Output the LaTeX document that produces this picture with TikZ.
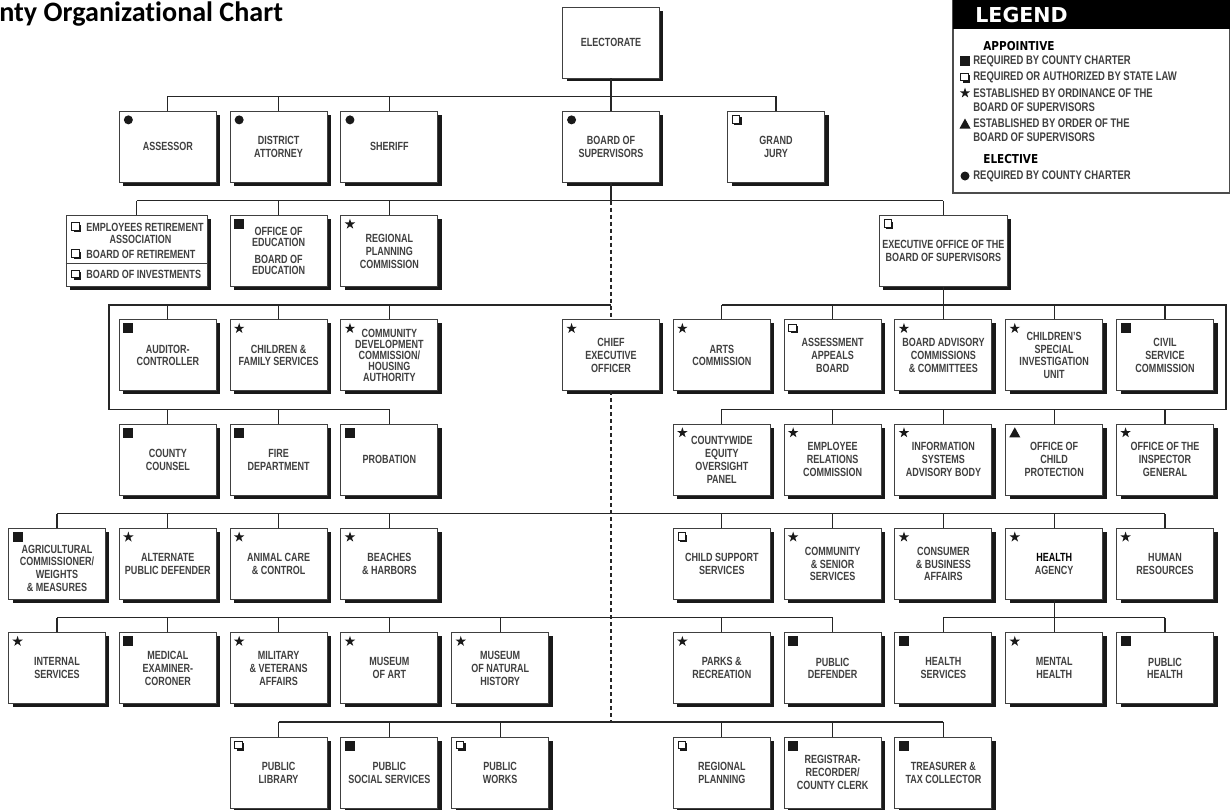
\documentclass[tikz,border=0pt]{standalone}
\usepackage{fontspec}
\setmainfont[FakeStretch=0.76]{Liberation Sans}
\newfontfamily\titlefont[Ligatures=NoCommon]{Carlito}
\newfontfamily\legendfont{DejaVu Sans}
\newfontfamily\kindfont[FakeStretch=0.85]{DejaVu Sans}
\usetikzlibrary{calc,shadows}

\tikzset{
    unit/.style = {draw = black!75, line width = 0.5pt, fill = white,
        minimum width = 1.94cm, minimum height = 1.42cm, inner sep = 1pt,
        align = center, text = black!75,
        font = \bfseries\fontsize{6.75}{7.3}\selectfont,
        drop shadow = {shadow xshift = 0.08cm, shadow yshift = -0.07cm,
            opacity = 1, fill = black!90}},
    unittext/.style = {inner sep = 0, text = black!75,
        font = \bfseries\fontsize{6.75}{7.3}\selectfont},
    keytext/.style = {anchor = west, inner sep = 0, align = left, text = black!75,
        font = \bfseries\fontsize{7.1}{7.9}\selectfont},
    link/.style = {line width = 0.75pt, black!85},
    charter/.pic = {\fill[black!90] (-5,-5) rectangle (5,5);},
    statelaw/.pic = {\fill[black!90] (-2.5,-2.5) rectangle (5,5);
        \draw[black!90, line width = 0.4pt, fill = white] (-4.5,-4.5) rectangle (3,3);},
    ordinance/.pic = {\fill[black!90] (270:5.5) \foreach \k in {1,...,4} {-- (270+144*\k:5.5)} -- cycle;},
    byorder/.pic = {\fill[black!90] (0,-5.5) -- (5.5,4.5) -- (-5.5,4.5) -- cycle;},
    elected/.pic = {\fill[black!90] (0,0) circle (0.09cm);}
}

\begin{document}
\begin{tikzpicture}[x = 0.02cm, y = -0.02cm]
    \useasboundingbox (0,0) rectangle (1230,809);
    \clip (0,0) rectangle (1230,809);

    \node[anchor = base west, inner sep = 0] (title) at (-1,21)
        {\titlefont\bfseries\fontsize{16}{19}\selectfont nty Organizational Chart};

    % legend
    \draw[black!70, line width = 0.8pt, fill = white] (953,-2) rectangle (1229.5,193);
    \fill[black] (953,-2) rectangle (1229.5,29);
    \node[anchor = west, inner sep = 0, text = white,
        font = \legendfont\bfseries\fontsize{11.7}{12}\selectfont] (legend) at (975,15.5) {LEGEND};
    \node[keytext, text = black, font = \kindfont\bfseries\fontsize{7}{8}\selectfont] (appointive) at (983,46) {APPOINTIVE};
    \node[keytext] (key1) at (973,61) {REQUIRED BY COUNTY CHARTER};
    \node[keytext] (key2) at (973,77.5) {REQUIRED OR AUTHORIZED BY STATE LAW};
    \node[keytext] (key3) at (973,100) {ESTABLISHED BY ORDINANCE OF THE\\BOARD OF SUPERVISORS};
    \node[keytext] (key4) at (973,130.5) {ESTABLISHED BY ORDER OF THE\\BOARD OF SUPERVISORS};
    \node[keytext, text = black, font = \kindfont\bfseries\fontsize{7}{8}\selectfont] (elective) at (983,159) {ELECTIVE};
    \node[keytext] (key5) at (973,176) {REQUIRED BY COUNTY CHARTER};
    \pic at (965,61) {charter};
    \pic at (965,77.5) {statelaw};
    \pic at (965,93) {ordinance};
    \pic at (965,124) {byorder};
    \pic at (965,176) {elected};

    % electorate and elected offices
    \node[unit] (electorate) at (611,42.5) {ELECTORATE};
    \node[unit] (assessor) at (167.8,146.8) {ASSESSOR};
    \node[unit] (attorney) at (278.6,146.8) {DISTRICT\\ATTORNEY};
    \node[unit] (sheriff) at (389.4,146.8) {SHERIFF};
    \node[unit] (board) at (611,146.8) {BOARD OF\\SUPERVISORS};
    \node[unit] (jury) at (776,146.8) {GRAND\\JURY};

    % under the board
    \node[unit, minimum width = 2.82cm] (retirement) at (136.5,250.8) {};
    \node[unittext, anchor = west] (era) at (86,227) {EMPLOYEES RETIREMENT};
    \node[unittext] (association) at (140.5,239) {ASSOCIATION};
    \node[unittext, anchor = west] (bret) at (86,254) {BOARD OF RETIREMENT};
    \node[unittext, anchor = west] (binv) at (86,274.5) {BOARD OF INVESTMENTS};
    \draw[black!75, line width = 0.5pt] (retirement.west |- 0,263) -- (retirement.east |- 0,263);
    \node[unit, font = \bfseries\fontsize{6.75}{6.5}\selectfont] (education) at (278.6,251.1)
        {OFFICE OF\\EDUCATION\\[3pt]BOARD OF\\EDUCATION};
    \node[unit] (regplan) at (389.4,251.1) {REGIONAL\\PLANNING\\COMMISSION};
    \node[unit, minimum width = 2.56cm] (execoffice) at (943.4,251.1) {EXECUTIVE OFFICE OF THE\\BOARD OF SUPERVISORS};

    \node[unit] (auditor) at (167.8,355.4) {AUDITOR-\\CONTROLLER};
    \node[unit] (children) at (278.6,355.4) {CHILDREN \&\\FAMILY SERVICES};
    \node[unit, font = \bfseries\fontsize{6.75}{6.4}\selectfont] (cdc) at (389.4,355.4)
        {COMMUNITY\\DEVELOPMENT\\COMMISSION/\\HOUSING\\AUTHORITY};
    \node[unit] (ceo) at (611,355.4) {CHIEF\\EXECUTIVE\\OFFICER};
    \node[unit] (arts) at (721.8,355.4) {ARTS\\COMMISSION};
    \node[unit] (appeals) at (832.6,355.4) {ASSESSMENT\\APPEALS\\BOARD};
    \node[unit] (advisory) at (943.4,355.4) {BOARD ADVISORY\\COMMISSIONS\\\& COMMITTEES};
    \node[unit] (csiu) at (1054.2,355.4) {CHILDREN'S\\SPECIAL\\INVESTIGATION\\UNIT};
    \node[unit] (civil) at (1165,355.4) {CIVIL\\SERVICE\\COMMISSION};

    \node[unit] (counsel) at (167.8,459.7) {COUNTY\\COUNSEL};
    \node[unit] (fire) at (278.6,459.7) {FIRE\\DEPARTMENT};
    \node[unit] (probation) at (389.4,459.7) {PROBATION};
    \node[unit] (equity) at (721.8,459.7) {COUNTYWIDE\\EQUITY\\OVERSIGHT\\PANEL};
    \node[unit] (relations) at (832.6,459.7) {EMPLOYEE\\RELATIONS\\COMMISSION};
    \node[unit] (infosys) at (943.4,459.7) {INFORMATION\\SYSTEMS\\ADVISORY BODY};
    \node[unit] (childprot) at (1054.2,459.7) {OFFICE OF\\CHILD\\PROTECTION};
    \node[unit] (inspector) at (1165,459.7) {OFFICE OF THE\\INSPECTOR\\GENERAL};

    % departments
    \node[unit] (agri) at (57,564) {\rule{0pt}{9.5pt}AGRICULTURAL\\COMMISSIONER/\\WEIGHTS\\\& MEASURES};
    \node[unit] (altdef) at (167.8,564) {ALTERNATE\\PUBLIC DEFENDER};
    \node[unit] (animal) at (278.6,564) {ANIMAL CARE\\\& CONTROL};
    \node[unit] (beaches) at (389.4,564) {BEACHES\\\& HARBORS};
    \node[unit] (childsup) at (721.8,564) {CHILD SUPPORT\\SERVICES};
    \node[unit] (senior) at (832.6,564) {COMMUNITY\\\& SENIOR\\SERVICES};
    \node[unit] (consumer) at (943.4,564) {CONSUMER\\\& BUSINESS\\AFFAIRS};
    \node[unit] (health) at (1054.2,564) {{\color{black}HEALTH}\\AGENCY};
    \node[unit] (hr) at (1165,564) {HUMAN\\RESOURCES};

    \node[unit] (internal) at (57,668.3) {INTERNAL\\SERVICES};
    \node[unit] (coroner) at (167.8,668.3) {MEDICAL\\EXAMINER-\\CORONER};
    \node[unit] (military) at (278.6,668.3) {MILITARY\\\& VETERANS\\AFFAIRS};
    \node[unit] (art) at (389.4,668.3) {MUSEUM\\OF ART};
    \node[unit] (nathist) at (500.2,668.3) {MUSEUM\\OF NATURAL\\HISTORY};
    \node[unit] (parks) at (721.8,668.3) {PARKS \&\\RECREATION};
    \node[unit] (pubdef) at (832.6,668.3) {PUBLIC\\DEFENDER};
    \node[unit] (healthsvc) at (943.4,668.3) {HEALTH\\SERVICES};
    \node[unit] (mental) at (1054.2,668.3) {MENTAL\\HEALTH};
    \node[unit] (pubhealth) at (1165,668.3) {PUBLIC\\HEALTH};

    \node[unit] (library) at (278.6,772.6) {PUBLIC\\LIBRARY};
    \node[unit] (social) at (389.4,772.6) {PUBLIC\\SOCIAL SERVICES};
    \node[unit] (works) at (500.2,772.6) {PUBLIC\\WORKS};
    \node[unit] (regional) at (721.8,772.6) {REGIONAL\\PLANNING};
    \node[unit] (registrar) at (832.6,772.6) {REGISTRAR-\\RECORDER/\\COUNTY CLERK};
    \node[unit] (treasurer) at (943.4,772.6) {TREASURER \&\\TAX COLLECTOR};

    % markers
    \foreach \n in {assessor, attorney, sheriff, board}
        \pic at ($(\n.north west)+(9.5,9)$) {elected};
    \foreach \n in {education, auditor, civil, counsel, fire, probation, agri, coroner,
            pubdef, healthsvc, pubhealth, social, registrar, treasurer}
        \pic at ($(\n.north west)+(9.5,9)$) {charter};
    \foreach \n in {jury, execoffice, appeals, childsup, library, works, regional}
        \pic at ($(\n.north west)+(9.5,9)$) {statelaw};
    \foreach \n in {regplan, children, cdc, ceo, arts, advisory, csiu, equity, relations,
            infosys, inspector, altdef, animal, beaches, senior, consumer, health, hr,
            internal, military, art, nathist, parks, mental}
        \pic at ($(\n.north west)+(9.5,9)$) {ordinance};
    \pic at ($(childprot.north west)+(9.5,9)$) {byorder};
    \foreach \y in {227, 254, 274.5}
        \pic at (76,\y) {statelaw};

    % connectors
    \coordinate (bus1) at (0,96.3);
    \coordinate (bus2) at (0,200.6);
    \coordinate (bus3) at (0,304.9);
    \coordinate (bus4) at (0,409.2);
    \coordinate (bus5) at (0,513.5);
    \coordinate (bus6) at (0,617.8);
    \coordinate (bus7) at (0,722.1);
    \coordinate (lspine) at (109,0);
    \coordinate (rspine) at (1226,0);

    \draw[link] (electorate.south) -- (board.north);
    \draw[link] (assessor.north |- bus1) -- (jury.north |- bus1);
    \foreach \n in {assessor, attorney, sheriff, jury}
        \draw[link] (\n.north) -- (\n.north |- bus1);

    \draw[link] (board.south) -- (board |- bus2);
    \draw[link] (retirement.north |- bus2) -- (execoffice.north |- bus2);
    \foreach \n in {retirement, education, regplan, execoffice}
        \draw[link] (\n.north) -- (\n.north |- bus2);
    \draw[link, dash pattern = on 0.08cm off 0.06cm] (board |- bus2) -- (ceo.north);
    \draw[link, dash pattern = on 0.08cm off 0.06cm] (ceo.south) -- (board |- bus7);

    \draw[link] (ceo.north |- bus3) -- (lspine |- bus3) -- (lspine |- bus4) -- (probation.north |- bus4);
    \foreach \n in {auditor, children, cdc}
        \draw[link] (\n.north) -- (\n.north |- bus3);
    \foreach \n in {counsel, fire, probation}
        \draw[link] (\n.north) -- (\n.north |- bus4);

    \draw[link] (execoffice.south) -- (execoffice |- bus3);
    \draw[link] (arts.north |- bus3) -- (rspine |- bus3) -- (rspine |- bus4) -- (equity.north |- bus4);
    \foreach \n in {arts, appeals, advisory, csiu, civil}
        \draw[link] (\n.north) -- (\n.north |- bus3);
    \foreach \n in {equity, relations, infosys, childprot, inspector}
        \draw[link] (\n.north) -- (\n.north |- bus4);

    \draw[link] (agri.north |- bus5) -- (hr.north |- bus5);
    \foreach \n in {agri, altdef, animal, beaches, childsup, senior, consumer, health, hr}
        \draw[link] (\n.north) -- (\n.north |- bus5);

    \draw[link] (internal.north |- bus6) -- (pubdef.north |- bus6);
    \foreach \n in {internal, coroner, military, art, nathist, parks, pubdef}
        \draw[link] (\n.north) -- (\n.north |- bus6);
    \draw[link] (health.south) -- (health |- bus6);
    \draw[link] (healthsvc.north |- bus6) -- (pubhealth.north |- bus6);
    \foreach \n in {healthsvc, mental, pubhealth}
        \draw[link] (\n.north) -- (\n.north |- bus6);

    \draw[link] (library.north |- bus7) -- (treasurer.north |- bus7);
    \foreach \n in {library, social, works, regional, registrar, treasurer}
        \draw[link] (\n.north) -- (\n.north |- bus7);
\end{tikzpicture}
\end{document}
